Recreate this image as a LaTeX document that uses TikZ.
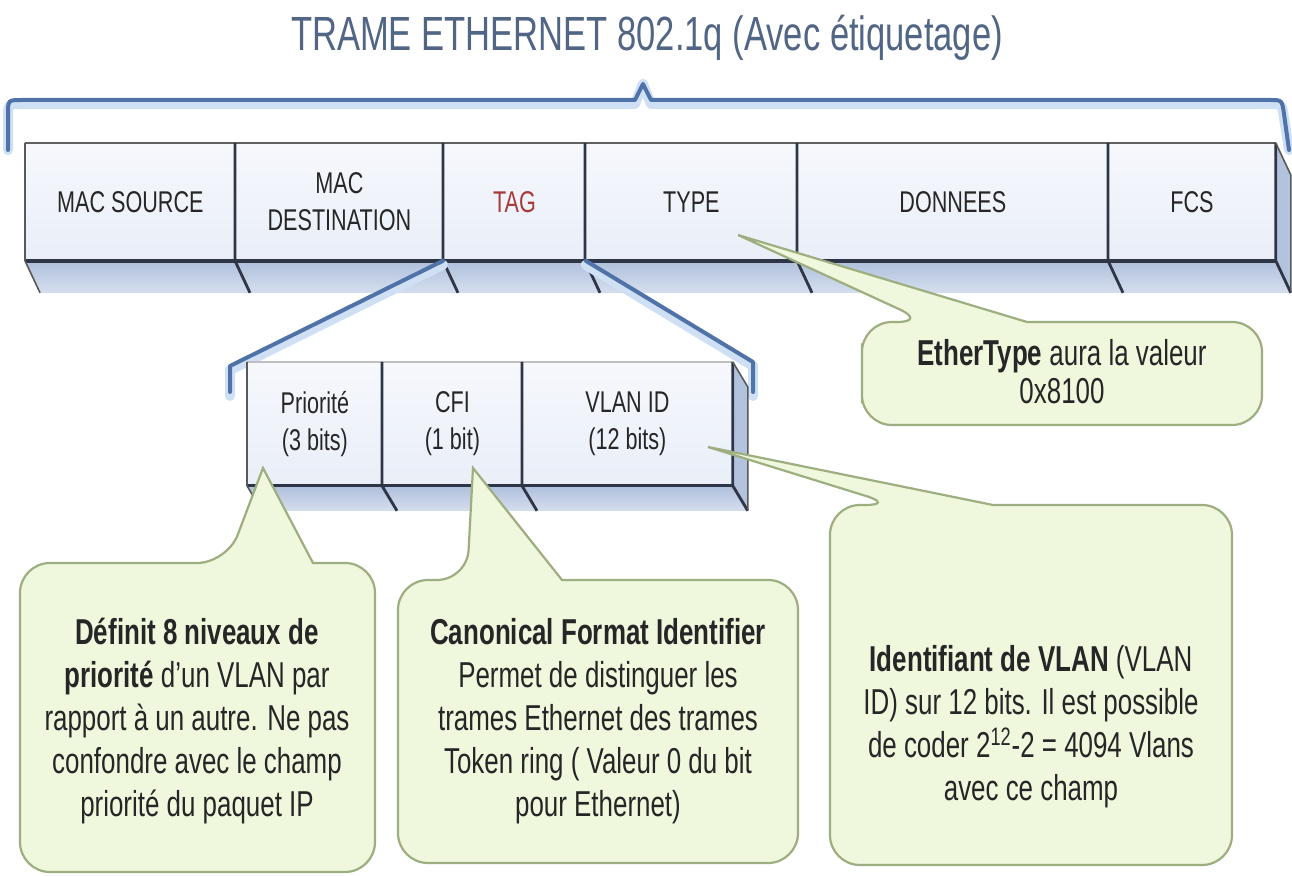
\documentclass[tikz,border=0pt]{standalone}
\usepackage{fontspec}
\setmainfont{Liberation Sans}[FakeStretch=0.72]
\usetikzlibrary{calc}
\definecolor{bluel}{HTML}{4F73A8}
\definecolor{glow}{HTML}{CFE0F4}
\definecolor{facec}{HTML}{E9EEF8}
\definecolor{facetop}{HTML}{F6F8FC}
\definecolor{stripTop}{HTML}{AFC0DC}
\definecolor{stripBot}{HTML}{D5DEEE}
\definecolor{sidec}{HTML}{B4C3DD}
\definecolor{edgec}{HTML}{2E3546}
\definecolor{callfill}{HTML}{EFF7DD}
\definecolor{callline}{HTML}{9DAF80}
\definecolor{tagred}{HTML}{A83A3A}
\definecolor{titlec}{HTML}{516585}
\definecolor{txt}{HTML}{262626}
\newcommand\mycallout[7]{%
  \draw[callstyle] (#1,{(#2+#4)/2}) [rounded corners=15pt] -- (#1,#2) -- (#5,#2) [sharp corners] -- (#7) -- (#6,#2) [rounded corners=15pt] -- (#3,#2) -- (#3,#4) -- (#1,#4) -- cycle;}
\begin{document}
\begin{tikzpicture}[x=0.5pt,y=-0.5pt,
  face/.style={anchor=north west, inner sep=0pt, top color=facetop, bottom color=facec, text=txt, align=center, font=\fontsize{15}{18.5}\selectfont},
  blueln/.style={draw=bluel, line width=2pt, line join=round, line cap=round},
  glowln/.style={draw=glow, line width=5pt, line join=round, line cap=round},
  edge/.style={draw=edgec, line width=1.4pt},
  thinedge/.style={draw=gray!70!black, line width=0.8pt},
  topedge/.style={draw=gray!75!black, line width=1.2pt},
  callstyle/.style={draw=callline, line width=1.1pt, fill=callfill},
  calltext/.style={text=txt, align=center, font=\fontsize{18}{21.5}\selectfont, inner sep=0pt}
]
\useasboundingbox[fill=white] (0,0) rectangle (1292,876);

% title
\node[text=titlec, font=\fontsize{24}{28}\selectfont, inner sep=0pt] (title) at (647,38) {TRAME ETHERNET 802.1q (Avec étiquetage)};

% brace
\coordinate (bl) at (8,150);
\coordinate (br) at (1289,150);
\coordinate (peak) at (643,84);
\draw[glowln, yshift=-2pt] (bl) -- (8,114) .. controls (8,100) .. (22,100) -- (635,100) -- (peak) -- (651,100) -- (1270,100) .. controls (1282,100) .. (1284,114) -- (br);
\draw[blueln] (bl) -- (8,114) .. controls (8,100) .. (22,100) -- (635,100) -- (peak) -- (651,100) -- (1270,100) .. controls (1282,100) .. (1284,114) -- (br);

% main frame
\node[face, minimum width=105pt, minimum height=58.5pt] (ms) at (25,143) {MAC SOURCE};
\node[face, minimum width=104pt, minimum height=58.5pt] (md) at (235,143) {MAC\\DESTINATION};
\node[face, minimum width=71pt, minimum height=58.5pt, text=tagred] (tag) at (443,143) {TAG};
\node[face, minimum width=106pt, minimum height=58.5pt] (type) at (585,143) {TYPE};
\node[face, minimum width=155.5pt, minimum height=58.5pt] (don) at (797,143) {DONNEES};
\node[face, minimum width=83.5pt, minimum height=58.5pt] (fcs) at (1108,143) {FCS};

\shade[top color=stripTop, bottom color=stripBot] (ms.south west) -- (fcs.south east) -- ++(15,32) -- ($(ms.south west)+(15,32)$) -- cycle;
\fill[sidec] (fcs.north east) -- ++(15,32) -- ++(0,117) -- (fcs.south east) -- cycle;
\draw[topedge] (ms.north west) -- (fcs.north east);
\draw[edge, line width=1.8pt] (ms.south west) -- (fcs.south east);
\foreach \n in {md,tag,type,don,fcs} \draw[edge] (\n.north west) -- (\n.south west) -- ++(15,32);
\draw[thinedge] (ms.north west) -- (ms.south west) -- ++(15,32);
\draw[edge] (fcs.north east) -- (fcs.south east) -- ++(15,32);
\draw[thinedge] (fcs.north east) -- ++(15,32) -- ++(0,117);

% expansion lines
\coordinate (el) at (230,392);
\coordinate (elc) at (230,366);
\coordinate (er) at (753,392);
\coordinate (erc) at (753,362);
\draw[glowln] ([yshift=-2pt]tag.south west) -- ([yshift=-2pt]elc) -- ([yshift=-2pt]el);
\draw[glowln] ([yshift=-2pt]tag.south east) -- ([yshift=-2pt]erc) -- ([yshift=-2pt]er);
\draw[blueln] (tag.south west) -- (elc) -- (el);
\draw[blueln] (tag.south east) -- (erc) -- (er);

% sub frame
\node[face, minimum width=67.5pt, minimum height=61.5pt] (pri) at (247,362) {Priorité\\(3 bits)};
\node[face, minimum width=70pt, minimum height=61.5pt] (cfi) at (382,362) {CFI\\(1 bit)};
\node[face, minimum width=105pt, minimum height=61.5pt] (vid) at (522,362) {VLAN ID\\(12 bits)};
\shade[top color=stripTop, bottom color=stripBot] (pri.south west) -- (vid.south east) -- ++(15,25) -- ($(pri.south west)+(15,25)$) -- cycle;
\fill[sidec] (vid.north east) -- ++(15,25) -- ++(0,123) -- (vid.south east) -- cycle;
\draw[topedge, draw=gray!50] (pri.north west) -- (vid.north east);
\draw[edge, line width=1.6pt] (pri.south west) -- (vid.south east);
\foreach \n in {cfi,vid} \draw[edge] (\n.north west) -- (\n.south west) -- ++(15,25);
\draw[thinedge] (pri.north west) -- (pri.south west) -- ++(15,25);
\draw[edge] (vid.north east) -- (vid.south east) -- ++(15,25);
\draw[thinedge] (vid.north east) -- ++(15,25) -- ++(0,123);

% callouts
\coordinate (tip1) at (263,468);
\coordinate (tip2) at (473,468);
\coordinate (tip3) at (708,447);
\coordinate (tip4) at (738,235);
\mycallout{20}{563}{375}{872}{227}{313}{tip1}
\mycallout{398}{580}{798}{863}{467}{562}{tip2}
\mycallout{830}{505}{1232}{865}{895}{993}{tip3}
\mycallout{862}{322}{1262}{425}{927}{1027}{tip4}

\node[calltext] (c1) at (197,721) {\textbf{Définit 8 niveaux de}\\\textbf{priorité} d'un VLAN par\\rapport à un autre. Ne pas\\confondre avec le champ\\priorité du paquet IP};
\node[calltext] (c2) at (598,721) {\textbf{Canonical Format Identifier}\\Permet de distinguer les\\trames Ethernet des trames\\Token ring ( Valeur 0 du bit\\pour Ethernet)};
\node[calltext] (c3) at (1031,727) {\textbf{Identifiant de VLAN} (VLAN\\ID) sur 12 bits. Il est possible\\de coder 2\textsuperscript{12}-2 = 4094 Vlans\\avec ce champ};
\node[calltext, font=\fontsize{18}{19}\selectfont] (c4) at (1062,372) {\textbf{EtherType} aura la valeur\\0x8100};
\end{tikzpicture}
\end{document}
